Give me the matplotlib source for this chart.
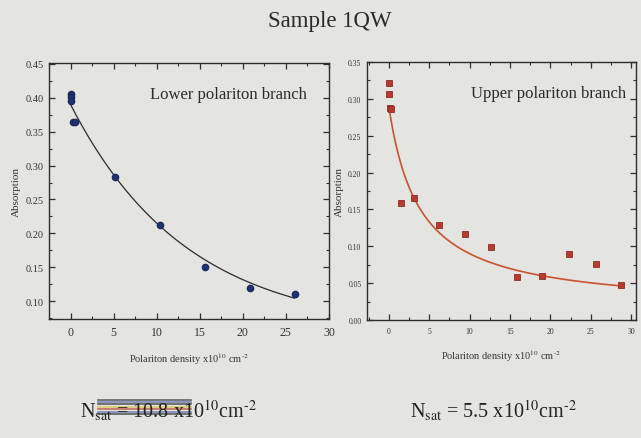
import matplotlib
matplotlib.use('Agg')
import matplotlib.pyplot as plt
import numpy as np
from matplotlib.lines import Line2D
from matplotlib.ticker import MultipleLocator

plt.rcParams['font.family'] = ['Liberation Serif', 'DejaVu Serif']
plt.rcParams['mathtext.fontset'] = 'stix'

# lower polariton branch (blue circles)
lpb_x = [0.0, 0.0, 0.0, 0.27, 0.53, 5.2, 10.4, 15.6, 20.8, 26.0]
lpb_y = [0.406, 0.401, 0.395, 0.364, 0.364, 0.283, 0.213, 0.150, 0.120, 0.111]
# fit: c + a*exp(-x/tau)
lpb_fit = dict(a=0.334, c=0.056, tau=13.5, xmax=26.0)

# upper polariton branch (red squares)
upb_x = [0.0, 0.0, 0.12, 0.33, 1.5, 3.1, 6.2, 9.4, 12.6, 15.9, 19.0, 22.3, 25.6, 28.8]
upb_y = [0.322, 0.307, 0.288, 0.286, 0.159, 0.166, 0.129, 0.117, 0.099, 0.058, 0.060,
         0.089, 0.076, 0.048]
# fit: c + a/(1 + x/n0)
upb_fit = dict(a=0.276, c=0.014, n0=3.8, xmax=28.8)

bg = '#e4e4e1'
hy = '\u2010'  # short hyphen for the exponents
xlab = 'Polariton density x10$^{10}$ cm$^{' + hy + '2}$'

fig = plt.figure(figsize=(6.41, 4.39), dpi=100, facecolor=bg)


def style_axes(ax, xsize, ysize):
    ax.set_facecolor(bg)
    for s in ax.spines.values():
        s.set_color('#2e2e2e')
        s.set_linewidth(1.0)
    ax.xaxis.set_major_locator(MultipleLocator(5))
    ax.xaxis.set_minor_locator(MultipleLocator(2.5))
    ax.yaxis.set_major_locator(MultipleLocator(0.05))
    ax.yaxis.set_minor_locator(MultipleLocator(0.025))
    ax.tick_params(which='both', direction='in', top=True, right=True, color='#2e2e2e')
    ax.tick_params(which='major', length=4, width=0.9)
    ax.tick_params(which='minor', length=2.5, width=0.8)
    ax.tick_params(axis='x', labelsize=xsize, pad=5, labelcolor='#333333')
    ax.tick_params(axis='y', labelsize=ysize, pad=4, labelcolor='#333333')


# left panel
ax1 = fig.add_axes([0.0764, 0.2711, 0.4368, 0.5831])
style_axes(ax1, 8.5, 7.5)
ax1.set_xlim(-2.5, 30)
ax1.set_ylim(0.074, 0.451)
ax1.yaxis.set_major_formatter(plt.FormatStrFormatter('%.2f'))
xf = np.linspace(0, lpb_fit['xmax'], 200)
ax1.plot(xf, lpb_fit['c'] + lpb_fit['a'] * np.exp(-xf / lpb_fit['tau']),
         color='#2b2b2b', lw=0.9)
ax1.plot(lpb_x, lpb_y, 'o', ms=4.5, color='#1f3272', mec='#1a2a60')
ax1.text(0.92, 0.88, 'Lower polariton branch', transform=ax1.transAxes,
         ha='right', va='center', fontsize=12, color='#2a2a2a')
ax1.set_ylabel('Absorption', fontsize=8, color='#333333', labelpad=3)
ax1.set_xlabel(xlab, fontsize=7.5, color='#333333', labelpad=9)

# right panel
ax2 = fig.add_axes([0.5725, 0.2688, 0.4197, 0.5877])
style_axes(ax2, 5.5, 5.5)
ax2.set_xlim(-2.7, 30.6)
ax2.set_ylim(0, 0.35)
ax2.yaxis.set_major_formatter(plt.FormatStrFormatter('%.2f'))
xf = np.linspace(0, upb_fit['xmax'], 300)
ax2.plot(xf, upb_fit['c'] + upb_fit['a'] / (1 + xf / upb_fit['n0']),
         color='#c9522f', lw=1.2)
ax2.plot(upb_x, upb_y, 's', ms=4.2, color='#b83a2c', mec='#8e2a22', mew=0.6)
ax2.text(0.965, 0.88, 'Upper polariton branch', transform=ax2.transAxes,
         ha='right', va='center', fontsize=12, color='#2a2a2a')
ax2.set_ylabel('Absorption', fontsize=8, color='#333333', labelpad=3)
ax2.set_xlabel(xlab, fontsize=7.5, color='#333333', labelpad=9)

fig.text(0.515, 0.95, 'Sample 1QW', ha='center', va='center', fontsize=16.5,
         color='#2a2a2a')

fig.text(0.125, 0.065, 'N$_{\\mathrm{sat}}$ = 10.8 x10$^{10}$cm$^{' + hy + '2}$',
         ha='left', va='center', fontsize=14.5, color='#222222')
fig.text(0.64, 0.065, 'N$_{\\mathrm{sat}}$ = 5.5 x10$^{10}$cm$^{' + hy + '2}$',
         ha='left', va='center', fontsize=14.5, color='#222222')

# marker scribbles over the left value
for yy, col in [(0.087, '#444444'), (0.082, '#5a6fb0'), (0.077, '#3a3a3a'),
                (0.071, '#d8c64a'), (0.066, '#c04a3a'), (0.060, '#5a6fb0'),
                (0.055, '#3a3a3a')]:
    fig.add_artist(Line2D([0.153, 0.298], [yy, yy], transform=fig.transFigure,
                          color=col, lw=1.2, alpha=0.8))

fig.savefig('out.png', dpi=100, facecolor=bg)
